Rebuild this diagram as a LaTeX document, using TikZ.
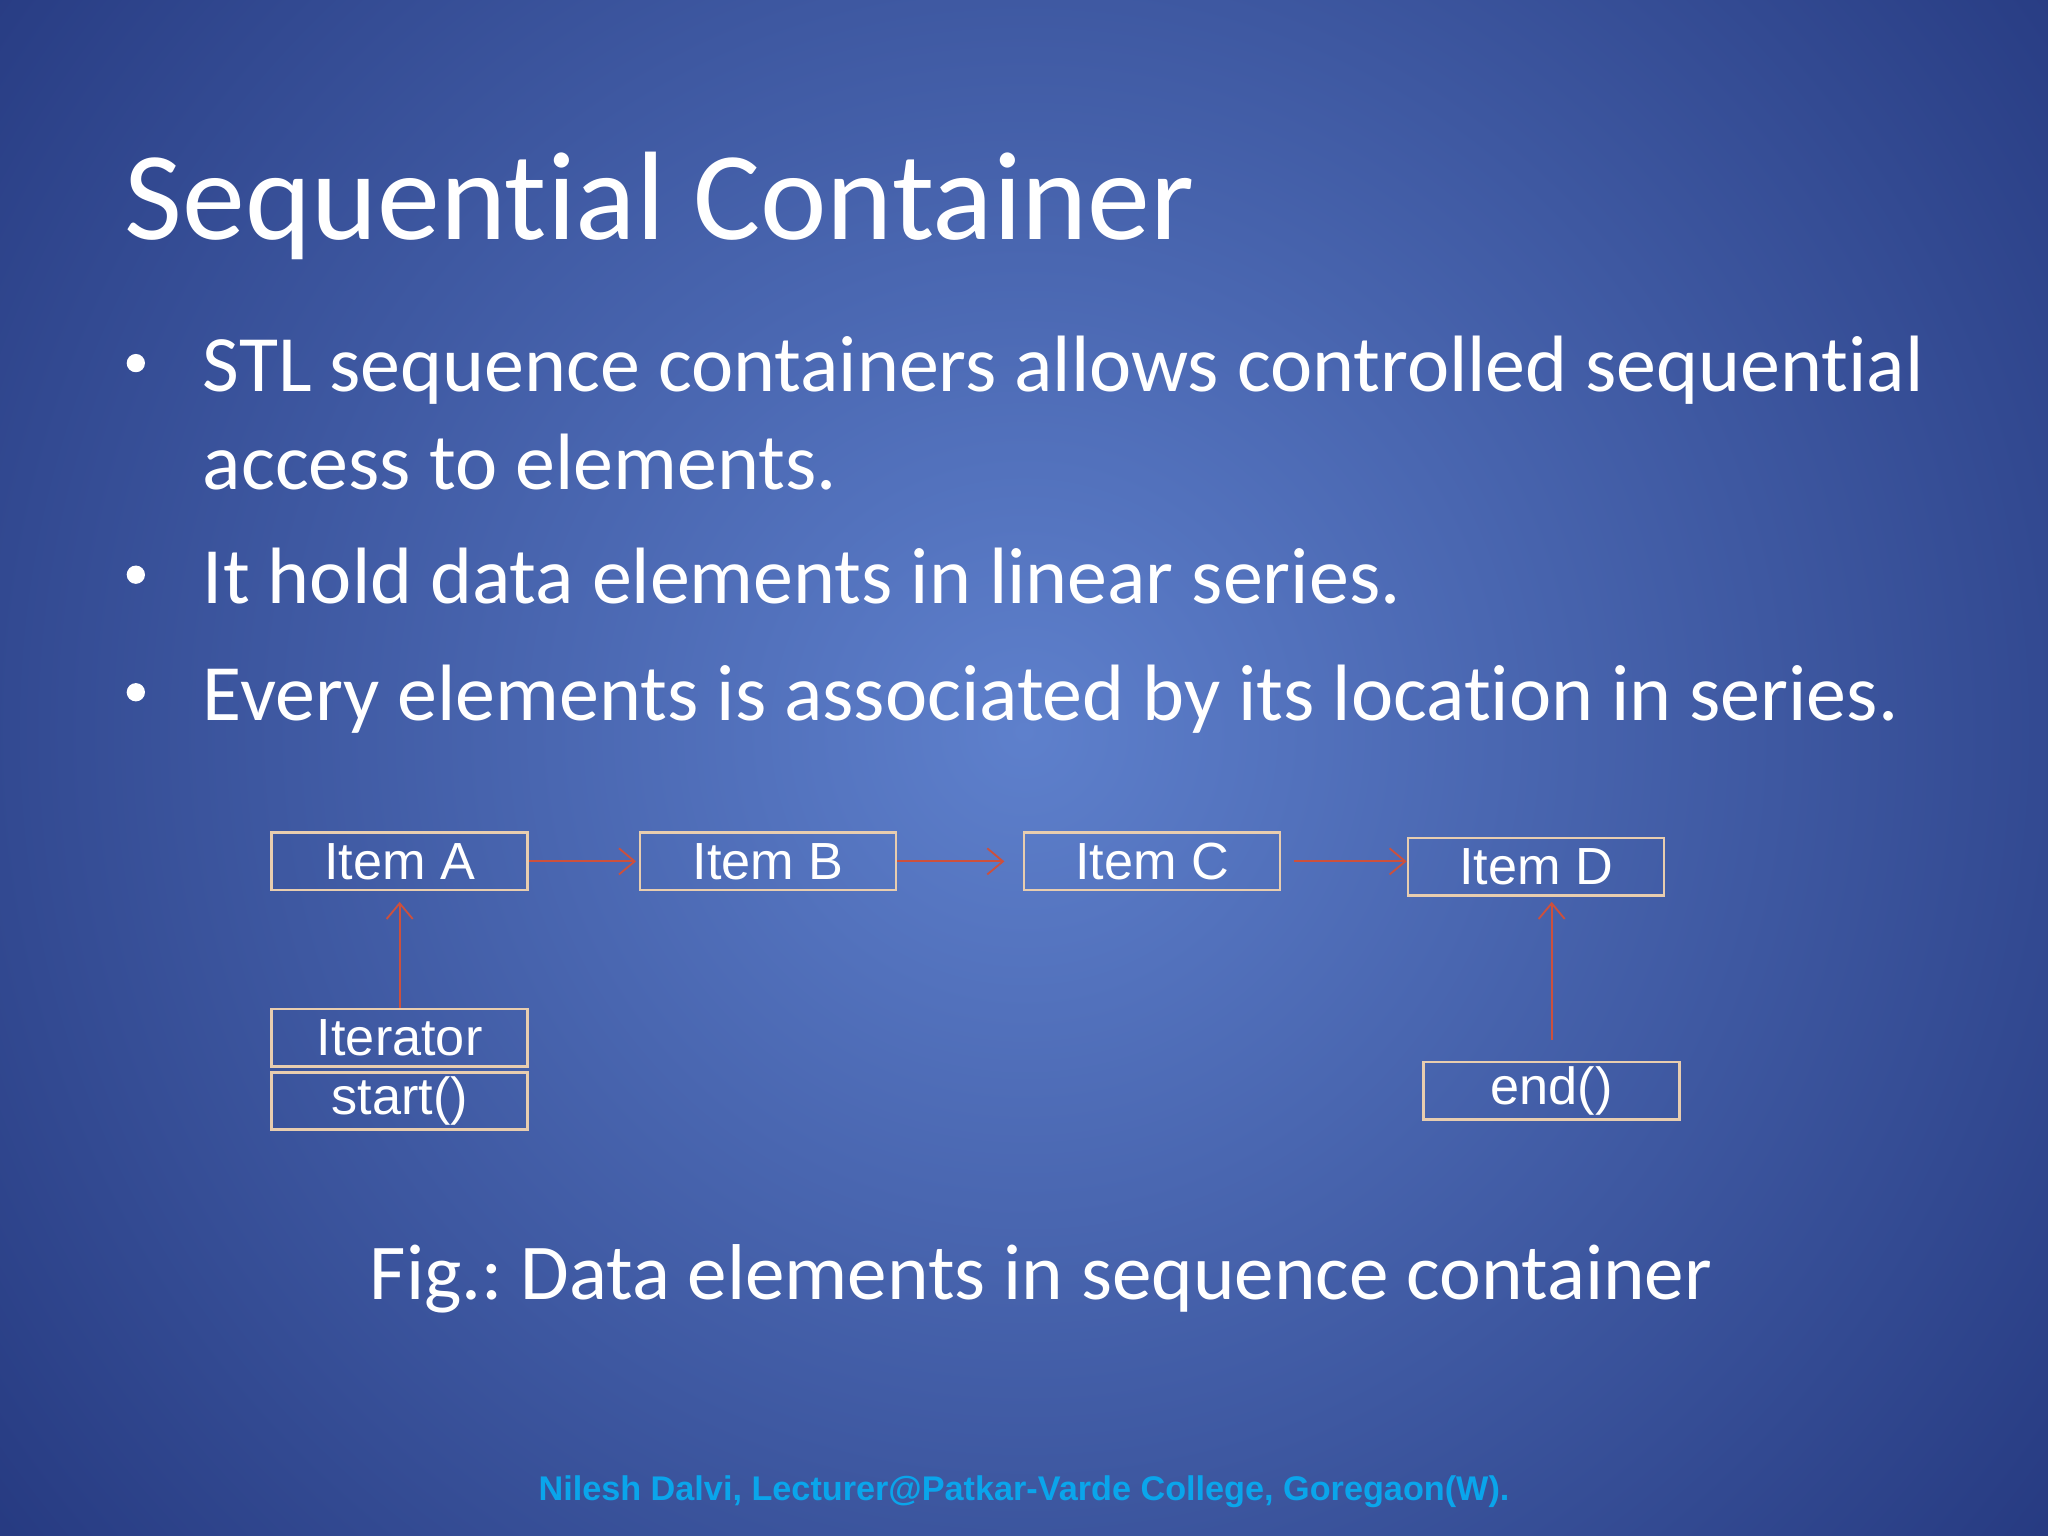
\documentclass[tikz,border=0pt]{standalone}
\usepackage{fontspec}
\setmainfont[Ligatures=NoCommon]{Carlito}
\newfontfamily\arialf{Liberation Sans}
\usetikzlibrary{arrows.meta}
\definecolor{bgin}{RGB}{94,128,204}
\definecolor{bgout}{RGB}{30,48,118}
\definecolor{boxc}{RGB}{232,205,175}
\definecolor{arrc}{RGB}{205,80,60}
\definecolor{footc}{RGB}{10,165,235}
\tikzset{
  itembox/.style={draw=boxc,line width=1pt,minimum width=98pt,minimum height=22pt,inner sep=0pt,text=white,font=\arialf\fontsize{20}{22}\selectfont},
  link/.style={draw=arrc,line width=0.7pt,-{Straight Barb[length=6pt,width=10pt]}},
  txt/.style={text=white,anchor=base west,inner sep=0pt}
}
\begin{document}
\frenchspacing
\begin{tikzpicture}[x=0.5pt,y=-0.5pt]
\useasboundingbox (0,0) rectangle (1568,1176);
\begin{scope}
\clip (0,0) rectangle (1568,1176);
\shade[inner color=bgin,outer color=bgout] (784,560) circle[radius=1150];
\end{scope}
\node[txt,font=\fontsize{48.2}{56}\selectfont] (title) at (95,183) {Sequential Container};
\foreach \y/\t [count=\i] in {300/{STL sequence containers allows controlled sequential},375/{access to elements.},462/{It hold data elements in linear series.},552/{Every elements is associated by its location in series.}}
  \node[txt,font=\fontsize{30.6}{34}\selectfont] (l\i) at (155,\y) {\t};
\foreach \y [count=\i] in {290,452,542}
  \fill[white] (104,\y-12) circle[radius=7] coordinate (b\i);
\node[itembox] (A) at (306,659.5) {Item A};
\node[itembox] (B) at (588,659.5) {Item B};
\node[itembox] (C) at (882,659.5) {Item C};
\node[itembox] (D) at (1176,663.5) {Item D};
\node[itembox] (it) at (306,794.5) {Iterator};
\node[itembox] (st) at (306,843) {start()};
\node[itembox] (en) at (1188,835) {end()};
\draw[link] (A.east) -- ([xshift=-1pt]B.west);
\draw[link,shorten >=7pt] (B.east) -- (C.west);
\draw[link,shorten <=5pt] (C.east) -- (D.west |- C.east);
\draw[link,shorten >=4pt] (it.north) -- (A.south);
\draw[link,shorten <=8pt,shorten >=2pt] (en.north) -- (en.north |- D.south);
\node[text=white,anchor=base,inner sep=0pt,font=\fontsize{30.3}{34}\selectfont] (cap) at (797,995) {Fig.: Data elements in sequence container};
\node[text=footc,anchor=base,inner sep=0pt,font=\arialf\bfseries\fontsize{13.1}{15}\selectfont] (foot) at (784,1149) {Nilesh Dalvi, Lecturer@Patkar-Varde College, Goregaon(W).};
\end{tikzpicture}
\end{document}
